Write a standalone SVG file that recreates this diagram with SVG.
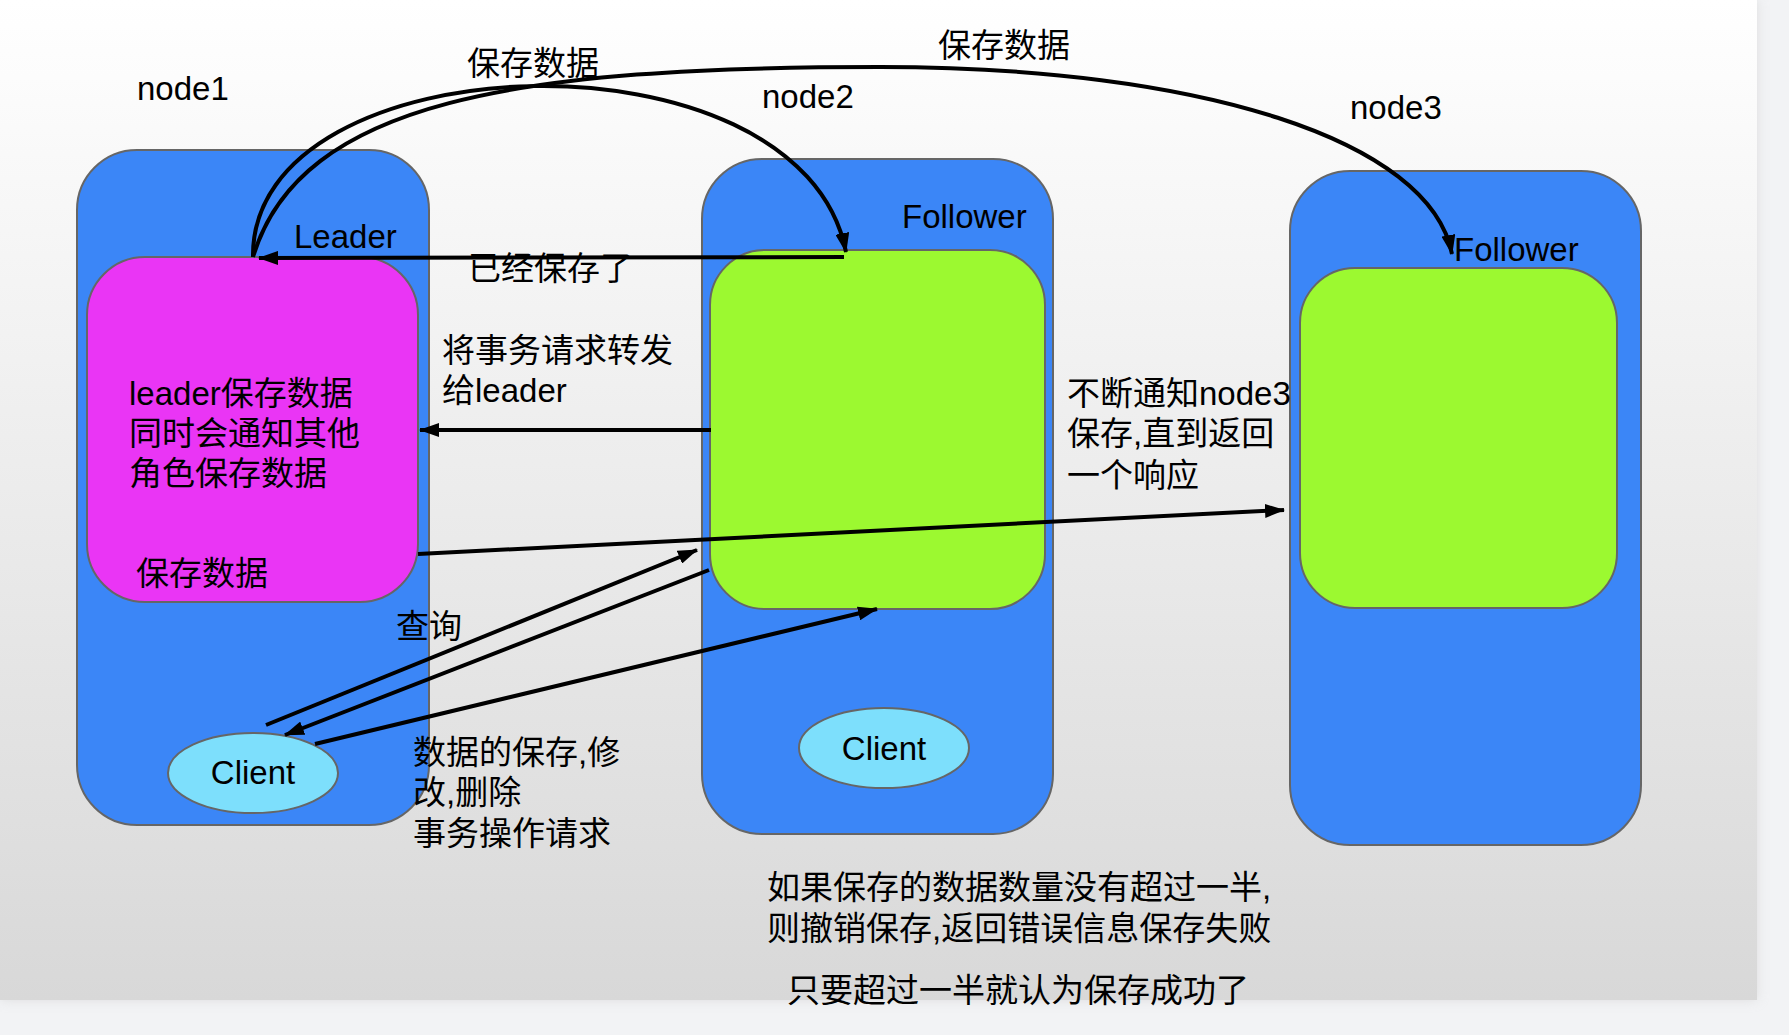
<svg xmlns="http://www.w3.org/2000/svg" width="1789" height="1035" viewBox="0 0 1789 1035">
  <defs>
    <linearGradient id="bg" x1="0" y1="0" x2="0" y2="1">
      <stop offset="0" stop-color="#ffffff"/>
      <stop offset="1" stop-color="#d8d8d8"/>
    </linearGradient>
    <filter id="shadow" x="-5%" y="-5%" width="110%" height="110%">
      <feGaussianBlur stdDeviation="6"/>
    </filter>
    <marker id="arrow" viewBox="0 0 20 14" refX="19" refY="7" markerWidth="20" markerHeight="14" markerUnits="userSpaceOnUse" orient="auto">
      <path d="M0,0 L20,7 L0,14 z" fill="#000"/>
    </marker>
    <style>
      .outer { fill: #3b86f7; stroke: #666666; stroke-width: 2; }
      .green { fill: #9cf930; stroke: #666666; stroke-width: 2; }
      .magenta { fill: #ea35f5; stroke: #666666; stroke-width: 2; }
      .client { fill: #7ddffc; stroke: #666666; stroke-width: 2; }
      .t { font-family: "Liberation Sans", "Noto Sans CJK SC", sans-serif; font-size: 33px; fill: #000; }
      .c { text-anchor: middle; }
      .edge { fill: none; stroke: #000; stroke-width: 4; marker-end: url(#arrow); }
    </style>
  </defs>

  <rect x="0" y="0" width="1789" height="1035" fill="#f2f3f5"/>
  <rect x="0" y="0" width="1757" height="1000" fill="#c8c8c8" filter="url(#shadow)" opacity="0.5"/>
  <rect x="0" y="0" width="1757" height="1000" fill="url(#bg)"/>

  <g id="node1">
    <rect class="outer" x="77" y="150" width="352" height="675" rx="60" ry="60"/>
    <text class="t" x="137" y="100">node1</text>
  </g>
  <g id="leader">
    <rect class="magenta" x="87" y="257" width="331" height="345" rx="58" ry="58"/>
    <text class="t" x="294" y="248">Leader</text>
    <text class="t" x="129" y="405">leader保存数据</text>
    <text class="t" x="129" y="445">同时会通知其他</text>
    <text class="t" x="129" y="485">角色保存数据</text>
    <text class="t" x="136" y="585">保存数据</text>
  </g>
  <g id="client1">
    <ellipse class="client" cx="253" cy="773" rx="85" ry="40"/>
    <text class="t c" x="253" y="784">Client</text>
  </g>

  <g id="node2">
    <rect class="outer" x="702" y="159" width="351" height="675" rx="60" ry="60"/>
    <text class="t" x="762" y="108">node2</text>
    <text class="t" x="902" y="228">Follower</text>
  </g>
  <g id="follower2">
    <rect class="green" x="710" y="250" width="335" height="359" rx="55" ry="55"/>
  </g>
  <g id="client2">
    <ellipse class="client" cx="884" cy="748" rx="85" ry="40"/>
    <text class="t c" x="884" y="760">Client</text>
  </g>

  <g id="node3">
    <rect class="outer" x="1290" y="171" width="351" height="674" rx="60" ry="60"/>
    <text class="t" x="1350" y="119">node3</text>
  </g>
  <g id="follower3">
    <rect class="green" x="1300" y="268" width="317" height="340" rx="55" ry="55"/>
    <text class="t" x="1454" y="261">Follower</text>
  </g>

  <g id="connectors">
    <path class="edge" d="M253 257 C250 40, 800 20, 846 252"/>
    <path class="edge" d="M253 257 C300 100, 520 67, 880 67 C1200 67, 1430 140, 1452 254"/>
    <path class="edge" d="M844 257 L259 258"/>
    <path class="edge" d="M711 430 L420 430"/>
    <path class="edge" d="M418 554 L1284 510"/>
    <path class="edge" d="M266 725 L697 550"/>
    <path class="edge" d="M709 570 L285 735"/>
    <path class="edge" d="M315 744 L877 609"/>
  </g>

  <g id="labels">
    <text class="t" x="467" y="75">保存数据</text>
    <text class="t" x="938" y="57">保存数据</text>
    <text class="t" x="468" y="280">已经保存了</text>
    <text class="t" x="442" y="362">将事务请求转发</text>
    <text class="t" x="442" y="402">给leader</text>
    <text class="t" x="1067" y="405">不断通知node3</text>
    <text class="t" x="1067" y="445">保存,直到返回</text>
    <text class="t" x="1067" y="487">一个响应</text>
    <text class="t" x="396" y="638">查询</text>
    <text class="t" x="413" y="764">数据的保存,修</text>
    <text class="t" x="413" y="804">改,删除</text>
    <text class="t" x="413" y="845">事务操作请求</text>
    <text class="t" x="767" y="899">如果保存的数据数量没有超过一半,</text>
    <text class="t" x="767" y="940">则撤销保存,返回错误信息保存失败</text>
    <text class="t" x="787" y="1002">只要超过一半就认为保存成功了</text>
  </g>
</svg>
